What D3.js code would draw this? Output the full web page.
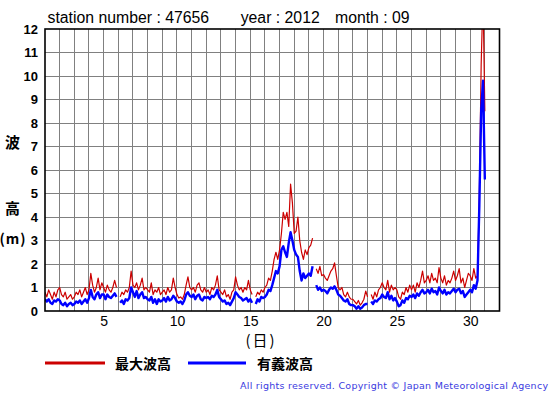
<!DOCTYPE html>
<html><head><meta charset="utf-8">
<script src="https://cdn.jsdelivr.net/npm/d3@7"></script>
<style>
html,body{margin:0;padding:0;background:#fff;}
svg{display:block;}
</style></head>
<body>
<script>
const xTicks = [5,10,15,20,25,30];
const yTicks = [0,1,2,3,4,5,6,7,8,9,10,11,12];
const samplesPerDay = 8;
// maximum wave height (m), 3-hourly, Sep 1 .. Oct 1
const maxWave = [
0.8,0.6,0.9,0.7,0.5,0.8,0.6,0.9,
1.0,0.7,0.6,0.8,0.5,0.6,0.7,0.5,
0.6,0.8,0.7,0.9,0.6,0.8,1.0,0.7,
0.9,1.6,1.1,0.8,1.0,1.4,0.9,1.2,
1.0,0.8,1.1,0.9,0.8,1.0,1.3,1.0,
null,0.6,0.8,0.7,0.9,0.8,1.0,1.7,
1.1,1.0,1.2,0.9,1.1,1.4,0.9,1.0,
0.9,0.8,1.2,0.7,0.9,0.8,1.0,0.7,
0.8,0.9,0.7,1.0,0.8,0.9,1.4,1.0,
0.7,0.55,0.6,0.5,0.7,1.1,1.45,1.0,
0.9,1.0,0.8,1.1,1.2,0.9,0.8,1.0,
0.8,0.9,0.7,1.0,0.9,1.1,1.5,0.9,
0.8,0.7,0.9,0.6,0.7,0.5,0.8,0.9,
1.45,1.1,0.9,1.0,0.8,1.0,0.9,1.3,
0.9,0.7,null,0.6,0.8,0.7,0.9,0.8,
1.0,1.1,1.4,1.3,1.7,2.2,2.5,2.2,
2.6,3.3,4.2,3.9,4.2,3.6,5.4,4.6,
3.3,3.4,4.0,3.0,2.5,2.2,2.6,2.4,
2.7,2.8,3.1,null,1.8,1.6,1.9,1.5,
1.55,1.4,1.3,1.5,1.7,1.8,2.05,1.5,
1.0,0.9,1.0,0.7,0.6,0.8,0.6,0.5,
0.5,0.4,0.3,0.45,0.25,0.35,0.5,0.85,
0.6,null,0.7,0.5,0.8,0.6,0.9,1.0,
1.2,1.0,0.9,1.3,0.8,1.1,0.9,1.0,
0.9,0.6,0.5,0.8,0.7,1.0,0.8,1.1,
0.9,1.1,0.8,1.2,1.0,1.3,1.7,1.2,
1.3,1.5,1.2,1.6,1.3,1.4,1.2,1.85,
1.4,1.2,1.5,1.1,1.3,1.2,1.4,1.7,
1.3,1.5,1.8,1.2,1.4,1.0,1.3,1.6,
1.5,1.3,1.8,1.4,1.5,5.0,10.5,13.5,
8.5];
// significant wave height (m)
const sigWave = [
0.5,0.4,0.5,0.35,0.3,0.45,0.4,0.5,
0.45,0.3,0.25,0.35,0.2,0.3,0.35,0.25,
0.3,0.4,0.35,0.45,0.3,0.4,0.5,0.35,
0.55,0.9,0.6,0.5,0.7,0.8,0.55,0.7,
0.7,0.5,0.7,0.6,0.55,0.65,0.75,0.6,
null,0.35,0.45,0.3,0.5,0.45,0.55,1.0,
0.8,0.6,0.85,0.55,0.7,0.8,0.55,0.6,
0.5,0.45,0.6,0.35,0.5,0.3,0.5,0.4,
0.45,0.55,0.4,0.6,0.45,0.5,0.65,0.55,
0.4,0.35,0.4,0.3,0.45,0.7,0.8,0.65,
0.6,0.7,0.5,0.65,0.7,0.5,0.45,0.6,
0.55,0.6,0.5,0.65,0.6,0.7,0.9,0.6,
0.5,0.4,0.45,0.3,0.35,0.25,0.4,0.55,
0.8,0.7,0.6,0.55,0.45,0.5,0.55,0.4,
0.5,0.35,null,0.3,0.5,0.4,0.6,0.55,
0.6,0.7,0.9,0.85,1.1,1.4,1.7,1.6,
1.9,2.6,2.75,2.5,2.3,2.9,3.35,3.0,
2.6,2.4,2.3,1.7,1.3,1.6,1.4,1.5,
1.6,1.5,1.9,null,1.1,0.9,1.0,0.85,
0.9,0.85,0.75,0.9,1.0,0.95,1.05,0.9,
0.7,0.65,0.55,0.45,0.4,0.5,0.3,0.25,
0.25,0.2,0.1,0.2,0.1,0.15,0.25,0.3,
0.3,null,0.4,0.3,0.45,0.4,0.5,0.55,
0.7,0.6,0.55,0.8,0.5,0.65,0.45,0.55,
0.4,0.2,0.25,0.45,0.35,0.55,0.5,0.65,
0.6,0.7,0.55,0.75,0.65,0.8,0.9,0.75,
0.8,0.9,0.75,0.95,0.8,0.85,0.7,1.0,
0.85,0.75,0.9,0.7,0.8,0.75,0.85,0.95,
0.8,0.9,0.95,0.75,0.85,0.6,0.7,0.8,
0.9,0.8,1.1,0.95,1.3,4.5,8.5,9.8,
5.6];

const W = 555, H = 395;
const L = 45, R = 499.5, T = 29, B = 311;
const svg = d3.select("body").append("svg").attr("width", W).attr("height", H);
const x = d3.scaleLinear().domain([1, 32]).range([L, R]);
const y = d3.scaleLinear().domain([0, 12]).range([B, T]);

// grid
const g = svg.append("g");
g.selectAll("line.v").data(d3.range(2, 32)).join("line")
  .attr("x1", d => x(d)).attr("x2", d => x(d)).attr("y1", T).attr("y2", B)
  .attr("stroke", "#808080").attr("stroke-width", 1).attr("shape-rendering","crispEdges");
g.selectAll("line.h").data(yTicks.slice(1, -1)).join("line")
  .attr("x1", L).attr("x2", R).attr("y1", d => y(d)).attr("y2", d => y(d))
  .attr("stroke", "#808080").attr("stroke-width", 1).attr("shape-rendering","crispEdges");

// clip
svg.append("clipPath").attr("id", "clip").append("rect")
  .attr("x", L).attr("y", T).attr("width", R - L).attr("height", B - T);

const line = d3.line()
  .defined(d => d[1] != null)
  .x(d => x(d[0])).y(d => y(d[1]));
const toPts = arr => arr.map((v, i) => [1 + i / samplesPerDay, v]);

svg.append("path").attr("clip-path", "url(#clip)")
  .attr("d", line(toPts(maxWave))).attr("fill", "none")
  .attr("stroke", "#cc0000").attr("stroke-width", 1.2).attr("stroke-linejoin","round");
svg.append("path").attr("clip-path", "url(#clip)")
  .attr("d", line(toPts(sigWave))).attr("fill", "none")
  .attr("stroke", "#0000ff").attr("stroke-width", 2.4).attr("stroke-linejoin","round");

// frame
svg.append("rect").attr("x", L).attr("y", T).attr("width", R - L).attr("height", B - T)
  .attr("fill", "none").attr("stroke", "#000").attr("stroke-width", 1.6);

// axes
const yAxis = svg.append("g").attr("transform", `translate(${L},0)`)
  .call(d3.axisLeft(y).tickValues(yTicks).tickSize(0).tickPadding(7).tickFormat(d3.format("d")));
yAxis.select(".domain").remove();
yAxis.selectAll("text").attr("font-family", "'Liberation Sans', Arial, sans-serif")
  .attr("font-size", 13).attr("font-weight", "bold").attr("fill", "#000");

const xAxis = svg.append("g").attr("transform", `translate(0,${B})`)
  .call(d3.axisBottom(x).tickValues(xTicks).tickSize(0).tickPadding(5).tickFormat(d3.format("d")));
xAxis.select(".domain").remove();
xAxis.selectAll("text").attr("font-family", "'Liberation Sans', Arial, sans-serif")
  .attr("font-size", 14).attr("fill", "#000");

// title
const tf = "'Liberation Sans', Arial, sans-serif";
svg.append("text").attr("x", 47.5).attr("y", 22.5).attr("font-family", tf).attr("font-size", 15.8).text("station number : 47656");
svg.append("text").attr("x", 240.7).attr("y", 22.5).attr("font-family", tf).attr("font-size", 15.8).text("year : 2012");
svg.append("text").attr("x", 335).attr("y", 22.5).attr("font-family", tf).attr("font-size", 15.8).text("month : 09");

// y label
const jf = "'Noto Sans CJK JP', sans-serif";
svg.append("text").attr("x", 12.5).attr("y", 141).attr("text-anchor", "middle").attr("dominant-baseline","central")
  .attr("font-family", jf).attr("font-size", 15).attr("font-weight", "bold").text("波");
svg.append("text").attr("x", 12.5).attr("y", 207).attr("text-anchor", "middle").attr("dominant-baseline","central")
  .attr("font-family", jf).attr("font-size", 15).attr("font-weight", "bold").text("高");
svg.append("text").attr("x", 13).attr("y", 238).attr("text-anchor", "middle").attr("dominant-baseline","central")
  .attr("font-family", jf).attr("font-size", 14).attr("font-weight", "bold").attr("letter-spacing", 1).text("(m)");

// x label
svg.append("text").attr("x", 261).attr("y", 339).attr("text-anchor", "middle").attr("dominant-baseline","central")
  .attr("font-family", jf).attr("font-size", 15).attr("letter-spacing", 2).text("(日)");

// legend
const legend = [
  {name: "最大波高", color: "#cc0000", x1: 45, x2: 105, tx: 115},
  {name: "有義波高", color: "#0000ff", x1: 188, x2: 246, tx: 257}
];
legend.forEach(d => {
  svg.append("line").attr("x1", d.x1).attr("x2", d.x2).attr("y1", 363).attr("y2", 363)
    .attr("stroke", d.color).attr("stroke-width", 3);
  svg.append("text").attr("x", d.tx).attr("y", 363).attr("dominant-baseline","central")
    .attr("font-family", jf).attr("font-size", 14).attr("font-weight", "bold").text(d.name);
});

// copyright
svg.append("text").attr("x", 240).attr("y", 388.5)
  .attr("font-family", "'DejaVu Sans', sans-serif").attr("font-size", 9.5).attr("fill", "#3a3ae0")
  .attr("textLength", 308).attr("lengthAdjust", "spacing")
  .text("All rights reserved. Copyright © Japan Meteorological Agency");
</script>
</body></html>
